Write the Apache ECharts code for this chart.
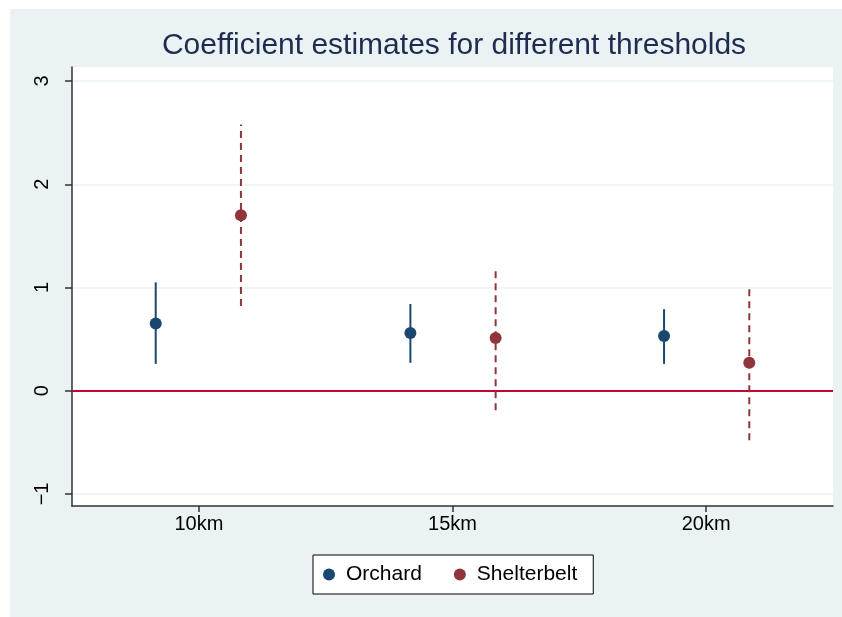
<!DOCTYPE html>
<html>
<head>
<meta charset="utf-8">
<script src="https://cdn.jsdelivr.net/npm/echarts@6/dist/echarts.min.js"></script>
<style>
  html, body { margin: 0; padding: 0; background: #fff; }
  #chart { width: 842px; height: 617px; }
</style>
</head>
<body>
<div id="chart"></div>
<script>
// thresholds on the x axis
var thresholds = [10, 15, 20];
var tickLabels = ['10km', '15km', '20km'];
var yTicks = [-1, 0, 1, 2, 3];

// Orchard: x position, point estimate, lower and upper bound
var orchardX = [9.15, 14.17, 19.17];
var orchardEst = [0.65, 0.56, 0.53];
var orchardLo = [0.26, 0.27, 0.26];
var orchardHi = [1.05, 0.84, 0.79];

// Shelterbelt
var shelterX = [10.83, 15.85, 20.85];
var shelterEst = [1.70, 0.51, 0.27];
var shelterLo = [0.82, -0.19, -0.48];
var shelterHi = [2.58, 1.17, 1.02];

var navy = '#1a476f';
var maroon = '#90353b';

function zip(xs, ys) {
  return xs.map(function (x, i) { return [x, ys[i]]; });
}
function ciData(xs, lo, hi) {
  return xs.map(function (x, i) { return [x, lo[i], hi[i]]; });
}
function ciRender(color, dash) {
  return function (params, api) {
    var p1 = api.coord([api.value(0), api.value(1)]);
    var p2 = api.coord([api.value(0), api.value(2)]);
    return {
      type: 'line',
      shape: { x1: p1[0], y1: p1[1], x2: p2[0], y2: p2[1] },
      style: { stroke: color, lineWidth: 2, lineDash: dash }
    };
  };
}

var chart = echarts.init(document.getElementById('chart'));
chart.setOption({
  animation: false,
  backgroundColor: '#ffffff',
  graphic: [{
    type: 'rect',
    z: -10,
    shape: { x: 10, y: 9, width: 832, height: 608 },
    style: { fill: '#eaf2f3' },
    silent: true
  }],
  title: {
    text: 'Coefficient estimates for different thresholds',
    left: 449,
    textAlign: 'center',
    top: 26,
    textStyle: {
      fontFamily: 'Liberation Sans',
      fontWeight: 'normal',
      fontSize: 30,
      color: '#1e2c4f'
    }
  },
  legend: {
    left: 313,
    top: 555,
    padding: [9, 16, 9, 10],
    backgroundColor: '#ffffff',
    borderColor: '#000000',
    borderWidth: 1,
    borderRadius: 0,
    itemGap: 32,
    itemWidth: 12,
    itemHeight: 12,
    textStyle: { fontFamily: 'Liberation Sans', fontSize: 21, color: '#000', padding: [0, 0, 0, 6] },
    data: [
      { name: 'Orchard', icon: 'circle' },
      { name: 'Shelterbelt', icon: 'circle' }
    ]
  },
  grid: {
    left: 72,
    right: 9,
    top: 67,
    bottom: 111,
    show: true,
    backgroundColor: '#ffffff',
    borderWidth: 0
  },
  xAxis: {
    type: 'value',
    min: 7.5,
    max: 22.5,
    axisLine: { show: true, onZero: false, lineStyle: { color: '#333', width: 1.5 } },
    axisTick: {
      show: true,
      length: 6,
      customValues: thresholds,
      lineStyle: { color: '#333', width: 1.5 }
    },
    axisLabel: {
      customValues: thresholds,
      formatter: function (v) { return tickLabels[thresholds.indexOf(v)]; },
      fontFamily: 'Liberation Sans',
      fontSize: 20,
      color: '#000',
      margin: 8
    },
    splitLine: { show: false }
  },
  yAxis: {
    type: 'value',
    min: -1.117,
    max: 3.136,
    axisLine: { show: true, onZero: false, lineStyle: { color: '#333', width: 1.5 } },
    axisTick: {
      show: true,
      length: 7,
      customValues: yTicks,
      lineStyle: { color: '#333', width: 1.5 }
    },
    axisLabel: {
      customValues: yTicks,
      rotate: 90,
      formatter: function (v) { return v < 0 ? '\u2212' + Math.abs(v) : String(v); },
      fontFamily: 'Liberation Sans',
      fontSize: 20,
      color: '#000',
      margin: 20
    },
    splitLine: { show: true, lineStyle: { color: '#eaf2f3', width: 1.5 } }
  },
  series: [
    {
      name: 'Orchard CI',
      type: 'custom',
      renderItem: ciRender(navy, null),
      data: ciData(orchardX, orchardLo, orchardHi),
      encode: { x: 0, y: [1, 2] },
      z: 3
    },
    {
      name: 'Shelterbelt CI',
      type: 'custom',
      renderItem: ciRender(maroon, [7, 5]),
      data: ciData(shelterX, shelterLo, shelterHi),
      encode: { x: 0, y: [1, 2] },
      z: 3
    },
    {
      name: 'Orchard',
      type: 'scatter',
      symbol: 'circle',
      symbolSize: 12,
      itemStyle: { color: navy, opacity: 1 },
      data: zip(orchardX, orchardEst),
      z: 5,
      markLine: {
        silent: true,
        symbol: 'none',
        label: { show: false },
        lineStyle: { color: '#c10534', width: 2, type: 'solid' },
        data: [{ yAxis: 0 }],
        z: 2
      }
    },
    {
      name: 'Shelterbelt',
      type: 'scatter',
      symbol: 'circle',
      symbolSize: 12,
      itemStyle: { color: maroon, opacity: 1 },
      data: zip(shelterX, shelterEst),
      z: 5
    }
  ]
});
</script>
</body>
</html>
